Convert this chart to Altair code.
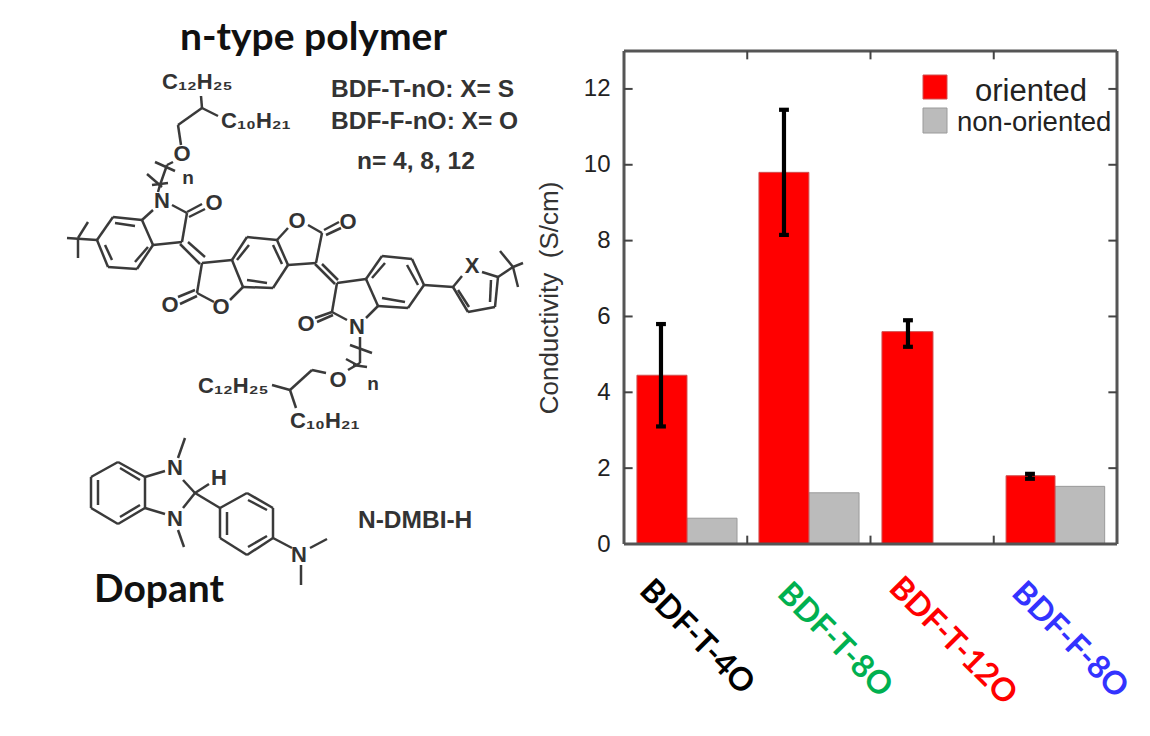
import altair as alt
import pandas as pd

# ---- bar chart data ----
samples = ["BDF-T-4O", "BDF-T-8O", "BDF-T-12O", "BDF-F-8O"]
sample_colors = ["#000000", "#00b050", "#ff0000", "#3333ff"]
oriented = [4.45, 9.8, 5.6, 1.8]
non_oriented = [0.68, 1.35, 0.0, 1.52]
err_low = [3.1, 8.15, 5.2, 1.72]
err_high = [5.8, 11.45, 5.9, 1.85]
bar_left = [0.105, 1.095, 2.093, 3.10]
bar_mid = [0.511, 1.50, 2.507, 3.497]
bar_right = [0.917, 1.907, None, 3.90]
err_x = [0.30, 1.298, 2.304, 3.294]
y_ticks = [2, 4, 6, 8, 10, 12]
x_ticks = [1, 2, 3]

# ---- structure drawing, in picture units ----
bonds = [
    # left-hand chain
    (201, 96, 202, 108), (202, 108, 218, 116), (202, 108, 178, 125), (178, 125, 181, 145),
    (173, 162, 167, 165), (167, 165, 160, 185), (160, 185, 158, 192),
    (155, 162, 175, 171), (147, 174, 162, 187), (152, 185, 168, 183),
    # left indolinone
    (113, 217, 142, 220), (142, 220, 153, 245), (153, 245, 137, 269), (137, 269, 108, 267),
    (108, 267, 97, 240), (97, 240, 113, 217),
    (115, 223, 135, 226), (105, 245, 112, 260), (135, 262, 148, 247),
    (153, 210, 142, 220), (172, 205, 187, 213), (187, 213, 182, 242), (182, 242, 153, 245),
    (187, 212, 202, 204), (189, 217, 205, 209),
    (180, 244, 200, 264), (188, 242, 205, 257),
    # end group left
    (67, 238, 97, 240), (88, 222, 78, 238), (78, 238, 78, 258),
    # central core
    (202, 263, 232, 260), (232, 260, 247, 237), (247, 237, 277, 240), (277, 240, 288, 265),
    (288, 265, 273, 288), (273, 288, 243, 287), (243, 287, 232, 260),
    (237, 260, 249, 245), (273, 245, 282, 264), (247, 280, 267, 283),
    (202, 263, 197, 293), (197, 293, 214, 302), (230, 300, 243, 287),
    (178, 297, 195, 290), (180, 304, 197, 296),
    (277, 240, 288, 228), (308, 225, 322, 233), (322, 233, 316, 263), (316, 263, 288, 265),
    (324, 230, 339, 222), (326, 235, 341, 228),
    (315, 264, 335, 284), (322, 264, 338, 280),
    # right indolinone
    (337, 283, 366, 279), (366, 279, 382, 256), (382, 256, 412, 259), (412, 259, 424, 285),
    (424, 285, 408, 308), (408, 308, 378, 306), (378, 306, 366, 279),
    (372, 278, 385, 263), (407, 265, 418, 285), (382, 298, 405, 302),
    (337, 283, 332, 312), (332, 312, 347, 320), (366, 318, 378, 306),
    (315, 318, 332, 312), (317, 322, 333, 315),
    # thiophene
    (424, 285, 453, 287), (453, 287, 462, 276), (482, 272, 498, 277), (498, 277, 495, 307),
    (495, 307, 468, 312), (468, 312, 453, 287),
    (458, 290, 469, 307), (491, 280, 490, 302),
    (498, 277, 513, 267), (500, 251, 513, 267), (513, 267, 518, 287), (513, 267, 523, 263),
    # lower chain
    (360, 337, 360, 363), (360, 363, 348, 370), (350, 345, 372, 353), (346, 359, 357, 365),
    (353, 365, 367, 367), (326, 373, 312, 370), (312, 370, 290, 390), (290, 390, 272, 385),
    (290, 390, 296, 408),
    # dopant
    (118, 462, 145, 477), (145, 477, 145, 508), (145, 508, 118, 524), (118, 524, 91, 508),
    (91, 508, 91, 477), (91, 477, 118, 462),
    (98, 480, 98, 505), (120, 468, 140, 480), (120, 517, 140, 505),
    (145, 477, 165, 471), (145, 508, 165, 514), (178, 458, 185, 438), (178, 530, 184, 547),
    (183, 480, 195, 493), (183, 508, 195, 493), (195, 493, 209, 484), (195, 493, 220, 508),
    (220, 508, 247, 493), (247, 493, 273, 508), (273, 508, 273, 538), (273, 538, 247, 555),
    (247, 555, 220, 538), (220, 538, 220, 508),
    (227, 512, 227, 535), (248, 500, 267, 510), (248, 547, 267, 536),
    (273, 538, 292, 548), (310, 548, 327, 539), (301, 565, 301, 585),
]
atoms = [
    ("O", 182, 154), ("N", 162, 201), ("O", 214, 203), ("O", 170, 305),
    ("O", 221, 307), ("O", 297, 221), ("O", 348, 222), ("O", 306, 324), ("N", 357, 327),
    ("X", 472, 266), ("O", 338, 380), ("N", 175, 468), ("N", 175, 519),
    ("H", 219, 478), ("N", 299, 555),
]
repeat_marks = [("n", 188, 178), ("n", 373, 384)]
formulas = [("C\u2081\u2082H\u2082\u2085", 162, 89), ("C\u2081\u2080H\u2082\u2081", 221, 128),
            ("C\u2081\u2082H\u2082\u2085", 198, 393), ("C\u2081\u2080H\u2082\u2081", 290, 428)]
notes = [("BDF-T-nO: X= S", 331, 97), ("BDF-F-nO: X= O", 331, 129),
         ("n= 4, 8, 12", 357, 169), ("N-DMBI-H", 358, 528)]
headings = [("n-type polymer", 180, 50), ("Dopant", 94, 602)]
legend_labels = [("oriented", 975, 101), ("non-oriented", 957, 131)]
legend_boxes = [(923, 947, 75, 99, "#ff0000", "#d05050"), (923, 947, 108, 133, "#bbbbbb", "#9a9a9a")]
sample_label_pos = [(697, 637), (835, 640), (953, 641), (1070, 640)]

# ---- scales ----
xs = alt.Scale(domain=[0, 4], range=[0, 493], nice=False, zero=False)
ys = alt.Scale(domain=[0, 13], range=[493, 0], nice=False, zero=False)
px = alt.Scale(domain=[0, 1150], range=[-624, 526], nice=False, zero=False)
py = alt.Scale(domain=[0, 736], range=[-51, 685], nice=False, zero=False)


def X(scale):
    return alt.X("x:Q", scale=scale, axis=None)


def Y(scale):
    return alt.Y("y:Q", scale=scale, axis=None)


def segs(rows, scale_x, scale_y, **mark):
    df = pd.DataFrame(rows, columns=["x", "y", "x2", "y2"])
    return alt.Chart(df).mark_rule(**mark).encode(
        x=X(scale_x), y=Y(scale_y), x2="x2:Q", y2="y2:Q")


def texts(rows, size, font="Liberation Sans", weight="normal", color="#333333",
          align="left", baseline="alphabetic", angle=0):
    df = pd.DataFrame(rows, columns=["t", "x", "y"])
    return alt.Chart(df).mark_text(
        font=font, fontSize=size, fontWeight=weight, color=color,
        align=align, baseline=baseline, angle=angle
    ).encode(x=X(px), y=Y(py), text="t:N")


def bars(lefts, rights, values, fill, stroke):
    rows = [(a, b, v) for a, b, v in zip(lefts, rights, values) if b is not None and v > 0]
    df = pd.DataFrame(rows, columns=["x", "x2", "y"]).assign(y0=0)
    return alt.Chart(df).mark_rect(fill=fill, stroke=stroke, strokeWidth=1).encode(
        x=X(xs), x2="x2:Q", y=Y(ys), y2="y0:Q")


# y axis carrier
axis_df = pd.DataFrame({"y": [0, 13]})
axis_layer = alt.Chart(axis_df).mark_point(opacity=0).encode(
    y=alt.Y("y:Q", scale=ys, axis=alt.Axis(
        values=[0] + y_ticks, title="Conductivity\u00a0\u00a0(S/cm)", grid=False, domain=False,
        ticks=False, labelFont="Liberation Sans", labelFontSize=24, labelColor="#222222",
        labelPadding=14, titleFont="Liberation Sans", titleFontSize=26,
        titleFontWeight="normal", titleColor="#333333", titlePadding=21)))

frame = [(0, 0, 4, 0), (0, 13, 4, 13), (0, 0, 0, 13), (4, 0, 4, 13)]
tick_rows = []
for v in y_ticks:
    tick_rows += [(0, v, 0.07, v), (3.93, v, 4, v)]
for v in x_ticks:
    tick_rows += [(v, 0, v, 0.22), (v, 12.78, v, 13)]

stems = [(x, a, x, b) for x, a, b in zip(err_x, err_low, err_high)]
caps = []
for x, a, b in zip(err_x, err_low, err_high):
    caps += [(x - 0.04, a, x + 0.04, a), (x - 0.04, b, x + 0.04, b)]

layers = [
    bars(bar_mid, bar_right, non_oriented, "#bbbbbb", "#9a9a9a"),
    bars(bar_left, bar_mid, oriented, "#ff0000", "#d05050"),
    segs(stems, xs, ys, color="#000000", strokeWidth=4.2),
    segs(caps, xs, ys, color="#000000", strokeWidth=4.2),
    segs(frame, xs, ys, color="#555555", strokeWidth=3),
    segs(tick_rows, xs, ys, color="#444444", strokeWidth=2),
    axis_layer,
    segs(bonds, px, py, color="#3a3a3a", strokeWidth=2.5),
    texts(atoms, 22, weight="bold", align="center", baseline="middle"),
    texts(repeat_marks, 19, weight="bold", align="center", baseline="middle"),
    texts(formulas, 22, weight="bold"),
    texts(notes, 24.5, weight="bold"),
    texts(headings, 39, font="Lato", weight="bold", color="#111111"),
    texts(legend_labels[:1], 31, color="#222222"),
    texts(legend_labels[1:], 27.5, color="#222222"),
]
for (lab, (lx, ly), col) in zip(samples, sample_label_pos, sample_colors):
    layers.append(texts([(lab, lx, ly)], 32, font="Lato", weight="bold", color=col,
                        align="center", baseline="middle", angle=45))
for (x0, x1, y0, y1, fill, stroke) in legend_boxes:
    df = pd.DataFrame([(x0, x1, y0, y1)], columns=["x", "x2", "y", "y2"])
    layers.append(alt.Chart(df).mark_rect(fill=fill, stroke=stroke, strokeWidth=1).encode(
        x=X(px), x2="x2:Q", y=Y(py), y2="y2:Q"))

chart = alt.layer(*layers).resolve_scale(x="independent", y="independent").properties(
    width=493, height=493,
    padding={"left": 616, "top": 43, "right": 25, "bottom": 183},
    autosize=alt.AutoSizeParams(type="none"),
).configure_view(stroke=None)

chart.save("out.html", embed_options={"renderer": "svg", "actions": False})
